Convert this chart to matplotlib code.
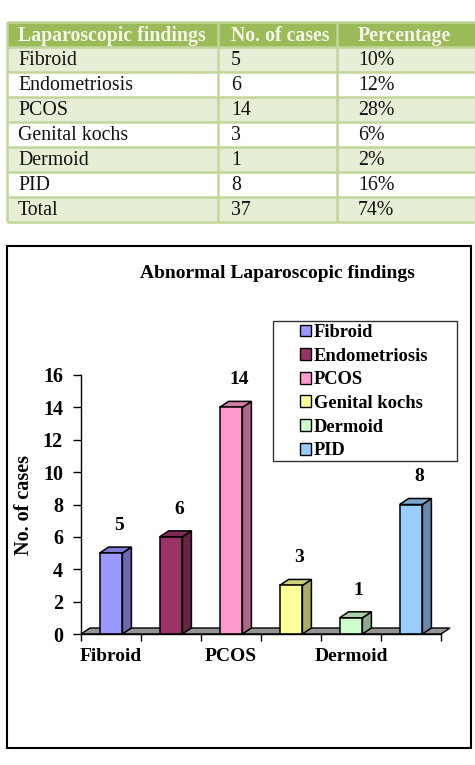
import matplotlib
matplotlib.use("Agg")
import matplotlib.pyplot as plt
from matplotlib.patches import Rectangle, Polygon, Patch
from matplotlib.colors import to_rgb

# table data
table_header = ["Laparoscopic findings", "No. of cases", "Percentage"]
table_findings = ["Fibroid", "Endometriosis", "PCOS", "Genital kochs", "Dermoid", "PID", "Total"]
table_cases = ["5", "6", "14", "3", "1", "8", "37"]
table_percent = ["10%", "12%", "28%", "6%", "2%", "16%", "74%"]

# chart data
categories = ["Fibroid", "Endometriosis", "PCOS", "Genital kochs", "Dermoid", "PID"]
counts = [5, 6, 14, 3, 1, 8]
bar_colors = ["#9999FF", "#993366", "#FF99CC", "#FFFF99", "#CCFFCC", "#99CCFF"]
shown_xlabels = ["Fibroid", "PCOS", "Dermoid"]

plt.rcParams['font.family'] = ['Liberation Serif', 'DejaVu Serif']

W, H = 475, 765
fig = plt.figure(figsize=(W / 100, H / 100), dpi=100)

# background axes in pixel coordinates (table + frames)
bg = fig.add_axes([0, 0, 1, 1], zorder=0)
bg.set_xlim(0, W)
bg.set_ylim(H, 0)
bg.axis('off')

# --- table ---
tx0, tx1 = 7, 476
row_top = 22
head_h = 25
row_h = 25
col_lines = [tx0, 218, 337]
col_text = [18, 231, 358]
line_col = "#C2D69B"

bg.add_patch(Rectangle((tx0, row_top), tx1 - tx0, head_h, fc="#9BBB59", ec="none"))
for j, txt in enumerate(table_header):
    bg.text(col_text[j], row_top + head_h / 2 + 1, txt, fontsize=14.3, fontweight='bold',
            color="#F4F6EA", ha='left', va='center')

for r in range(len(table_findings)):
    y0 = row_top + head_h + r * row_h
    fc = "#E6EED5" if r % 2 == 0 else "white"
    bg.add_patch(Rectangle((tx0, y0), tx1 - tx0, row_h, fc=fc, ec="none"))
    vals = [table_findings[r], table_cases[r], table_percent[r]]
    for j, txt in enumerate(vals):
        bg.text(col_text[j], y0 + row_h / 2 + 1, txt, fontsize=14.3, color="#111111",
                ha='left', va='center')

n_rows = len(table_findings)
bottom = row_top + head_h + n_rows * row_h
for k in range(n_rows + 2):
    yy = row_top if k == 0 else row_top + head_h + (k - 1) * row_h
    bg.plot([tx0, tx1], [yy, yy], color=line_col, lw=1.8, solid_capstyle='butt')
for xx in col_lines:
    bg.plot([xx, xx], [row_top, bottom], color=line_col, lw=1.8, solid_capstyle='butt')

# --- chart frame ---
bg.add_patch(Rectangle((7, 246), 464, 502, fc='none', ec='black', lw=1.5))
bg.text(277, 273, "Abnormal Laparoscopic findings", fontsize=14, fontweight='bold',
        ha='center', va='center')
bg.text(24, 505, "No. of cases", fontsize=14.5, fontweight='bold', rotation=90,
        ha='center', va='center')
bg.add_patch(Rectangle((273, 321), 184, 140, fc='white', ec='#333333', lw=1.0))

# --- chart axes ---
ax_left, ax_right = 81, 441
ax_y0, ax_ytop = 634, 375
ax = fig.add_axes([ax_left / W, (H - ax_y0) / H, (ax_right - ax_left) / W,
                   (ax_y0 - ax_ytop) / H], zorder=1)
ax.patch.set_alpha(0)
n = len(counts)
ax.set_xlim(0, n)
ax.set_ylim(0, 16)

px_per_unit = (ax_y0 - ax_ytop) / 16
dx = 9 / ((ax_right - ax_left) / n)
dy = 6 / px_per_unit
bw = 0.38


def shade(c, f):
    r, g, b = to_rgb(c)
    return (r * f, g * f, b * f)


# floor
ax.add_patch(Polygon([(0, 0), (n, 0), (n + dx, dy), (dx, dy)], closed=True,
                     fc='#959595', ec='black', lw=1.0, clip_on=False, zorder=1))

for i, (v, c) in enumerate(zip(counts, bar_colors)):
    x0 = i + 0.5 - bw / 2
    x1 = x0 + bw
    ax.add_patch(Polygon([(x1, 0), (x1 + dx, dy), (x1 + dx, v + dy), (x1, v)], closed=True,
                         fc=shade(c, 0.68), ec='black', lw=1.1, clip_on=False, zorder=3))
    ax.add_patch(Polygon([(x0, v), (x1, v), (x1 + dx, v + dy), (x0 + dx, v + dy)], closed=True,
                         fc=shade(c, 0.82), ec='black', lw=1.1, clip_on=False, zorder=3))
    ax.add_patch(Rectangle((x0, 0), bw, v, fc=c, ec='black', lw=1.1, clip_on=False, zorder=4))
    ax.text(i + 0.63, v + 1.7, str(v), fontsize=14, fontweight='bold',
            ha='center', va='center')

for s in ['top', 'right']:
    ax.spines[s].set_visible(False)
for s in ['left', 'bottom']:
    ax.spines[s].set_linewidth(1.0)
    ax.spines[s].set_zorder(5)

ax.set_yticks(range(0, 17, 2))
ax.tick_params(axis='y', direction='out', length=6, width=1, pad=7, labelsize=14.5)
for lab in ax.get_yticklabels():
    lab.set_fontweight('bold')

ax.set_xticks(range(n + 1))
ax.set_xticklabels([])
ax.tick_params(axis='x', which='major', direction='out', length=5, width=1)
ax.set_xticks([categories.index(c) + 0.5 for c in shown_xlabels], minor=True)
ax.set_xticklabels(shown_xlabels, minor=True, fontsize=14, fontweight='bold')
ax.tick_params(axis='x', which='minor', length=0, pad=10)

handles = [Patch(fc=c, ec='black', lw=1.0) for c in bar_colors]
fig.legend(handles, categories, loc='upper left', bbox_to_anchor=(300 / W, 1 - 324 / H),
           frameon=False, borderpad=0, borderaxespad=0, handlelength=0.62, handleheight=0.62,
           handletextpad=0.12, labelspacing=0.36,
           prop={'family': 'Liberation Serif', 'weight': 'bold', 'size': 13.3})

fig.savefig("out.png", dpi=100)
